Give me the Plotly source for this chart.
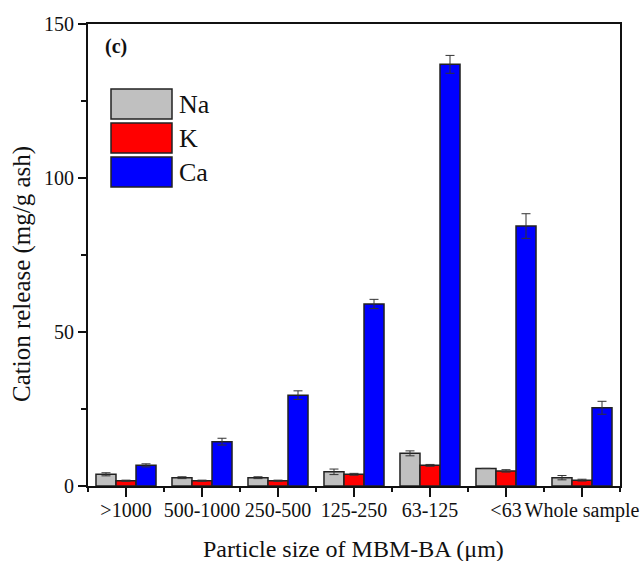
import plotly.graph_objects as go

# Particle size fractions of MBM bottom ash
categories = [">1000", "500-1000", "250-500", "125-250", "63-125", "<63", "Whole sample"]

# Cation release (mg/g ash) and standard deviations
na_values = [3.8, 2.7, 2.7, 4.6, 10.6, 5.7, 2.7]
na_errors = [0.5, 0.3, 0.3, 0.9, 0.8, 0.0, 0.7]
k_values = [1.7, 1.7, 1.7, 3.8, 6.7, 4.9, 1.9]
k_errors = [0.2, 0.2, 0.2, 0.3, 0.3, 0.4, 0.3]
ca_values = [6.7, 14.4, 29.5, 59.1, 136.9, 84.4, 25.4]
ca_errors = [0.5, 1.1, 1.4, 1.5, 2.9, 4.0, 2.1]

series = [
    ("Na", na_values, na_errors, "#c0c0c0"),
    ("K", k_values, k_errors, "#ff0000"),
    ("Ca", ca_values, ca_errors, "#0000ff"),
]

W, H = 641, 561
L, R, T, B = 88, 620, 24, 486
FONT = "Liberation Serif, Times New Roman, serif"


def px_x(px):
    return (px - L) / (R - L)


def px_y(py):
    return (B - py) / (B - T)


fig = go.Figure()
positions = list(range(len(categories)))
for name, vals, errs, color in series:
    fig.add_trace(go.Bar(
        x=positions, y=vals, name=name,
        marker=dict(color=color, line=dict(color="#222222", width=1.5)),
        error_y=dict(type="data", array=errs, visible=True,
                     color="#333333", thickness=1, width=4.5),
        showlegend=False,
    ))

# Legend drawn as large swatches with labels
swatch_rows = [(89, 119), (123, 153), (157, 187)]
for (name, _, _, color), (y0, y1) in zip(series, swatch_rows):
    fig.add_shape(type="rect", xref="paper", yref="paper",
                  x0=px_x(111), x1=px_x(172), y0=px_y(y1), y1=px_y(y0),
                  fillcolor=color, line=dict(color="#222222", width=1.5))
    fig.add_annotation(text=name, xref="paper", yref="paper",
                       x=px_x(177), y=px_y((y0 + y1) / 2),
                       xanchor="left", yanchor="middle", showarrow=False,
                       font=dict(family=FONT, size=26, color="#111111"))

fig.add_annotation(text="<b>(c)</b>", xref="paper", yref="paper",
                   x=px_x(116), y=px_y(46), xanchor="center", yanchor="middle",
                   showarrow=False, font=dict(family=FONT, size=20, color="#111111"))

# Axis titles
fig.add_annotation(text="Particle size of MBM-BA (μm)", xref="paper", yref="paper",
                   x=px_x(353), y=px_y(549), xanchor="center", yanchor="middle",
                   showarrow=False, font=dict(family=FONT, size=24, color="#111111"))
fig.add_annotation(text="Cation release (mg/g ash)", xref="paper", yref="paper",
                   x=px_x(22), y=px_y(274), xanchor="center", yanchor="middle",
                   textangle=-90, showarrow=False,
                   font=dict(family=FONT, size=25, color="#111111"))

fig.update_layout(
    width=W, height=H,
    margin=dict(l=L, r=W - R, t=T, b=H - B, pad=0, autoexpand=False),
    paper_bgcolor="white", plot_bgcolor="white",
    barmode="group", bargap=0.21, bargroupgap=0,
    font=dict(family=FONT, size=20, color="#111111"),
)
fig.update_xaxes(
    range=[-0.5, len(categories) - 0.5],
    tickvals=positions, ticktext=categories,
    ticks="outside", ticklen=9, tickwidth=2, tickcolor="#111111",
    minor=dict(tick0=-0.5, dtick=1, ticks="outside", ticklen=4,
               tickwidth=2, tickcolor="#111111"),
    showline=True, linecolor="#111111", linewidth=2, mirror=True,
    showgrid=False, zeroline=False, automargin=False,
    ticklabelstandoff=-4,
    tickfont=dict(family=FONT, size=20),
)
fig.update_yaxes(
    range=[0, 150], tickvals=[0, 50, 100, 150],
    ticks="outside", ticklen=8, tickwidth=2, tickcolor="#111111",
    minor=dict(tickvals=[25, 75, 125], ticks="outside", ticklen=5,
               tickwidth=2, tickcolor="#111111"),
    showline=True, linecolor="#111111", linewidth=2, mirror=True,
    showgrid=False, zeroline=False, automargin=False,
    tickfont=dict(family=FONT, size=20),
)

fig.write_html("out.html")
